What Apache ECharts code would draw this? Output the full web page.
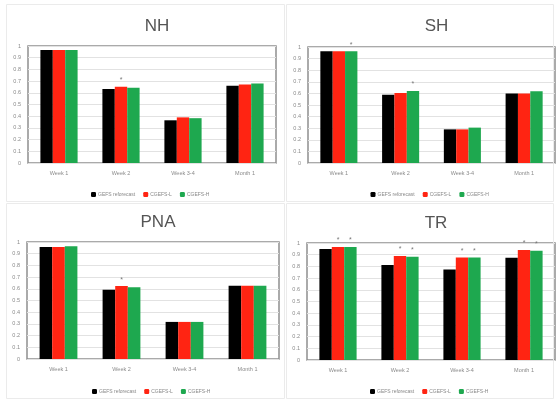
<!DOCTYPE html>
<html><head><meta charset="utf-8">
<script src="https://cdn.jsdelivr.net/npm/echarts@6/dist/echarts.min.js"></script>
<style>html,body{margin:0;padding:0;background:#fff}#c{width:559px;height:401px}</style>
</head><body><div id="c"></div>
<script>
const categories = ['Week 1', 'Week 2', 'Week 3-4', 'Month 1'];
const seriesNames = ['GEFS reforecast', 'CGEFS-L', 'CGEFS-H'];
const yTicks = [0, 0.1, 0.2, 0.3, 0.4, 0.5, 0.6, 0.7, 0.8, 0.9, 1];
const panelTitles = ['NH', 'SH', 'PNA', 'TR'];

const nhGefs = [0.965, 0.632, 0.365, 0.66];
const nhL    = [0.965, 0.652, 0.39, 0.671];
const nhH    = [0.965, 0.643, 0.383, 0.68];
const nhSigL = [false, true, false, false];
const nhSigH = [false, false, false, false];

const shGefs = [0.963, 0.589, 0.29, 0.60];
const shL    = [0.963, 0.603, 0.29, 0.60];
const shH    = [0.963, 0.621, 0.305, 0.618];
const shSigL = [false, false, false, false];
const shSigH = [true, true, false, false];

const pnaGefs = [0.957, 0.591, 0.317, 0.626];
const pnaL    = [0.957, 0.623, 0.317, 0.626];
const pnaH    = [0.963, 0.614, 0.317, 0.626];
const pnaSigL = [false, true, false, false];
const pnaSigH = [false, false, false, false];

const trGefs = [0.949, 0.811, 0.774, 0.874];
const trL    = [0.966, 0.889, 0.877, 0.94];
const trH    = [0.966, 0.883, 0.877, 0.934];
const trSigL = [true, true, true, true];
const trSigH = [true, true, true, true];

const colors = ['#000000', '#ff2412', '#1ea84f'];

const panels = [
  {vals: [nhGefs, nhL, nhH], sig: [null, nhSigL, nhSigH], grid: {left: 28, top: 46, width: 248, height: 117}, titleTop: 13, legendTop: 187},
  {vals: [shGefs, shL, shH], sig: [null, shSigL, shSigH], grid: {left: 308, top: 47, width: 247, height: 116}, titleTop: 13, legendTop: 187},
  {vals: [pnaGefs, pnaL, pnaH], sig: [null, pnaSigL, pnaSigH], grid: {left: 27, top: 242, width: 252, height: 117}, titleTop: 209, legendTop: 384},
  {vals: [trGefs, trL, trH], sig: [null, trSigL, trSigH], grid: {left: 307, top: 243, width: 248, height: 117}, titleTop: 210, legendTop: 384}
];

const grid = [], xAxis = [], yAxis = [], series = [], title = [], legend = [];
panels.forEach((p, i) => {
  grid.push(Object.assign({show: true, borderColor: '#8f8f8f', borderWidth: 1.5, backgroundColor: '#fff'}, p.grid));
  xAxis.push({type: 'category', gridIndex: i, data: categories,
    axisLine: {show: false}, axisTick: {show: false},
    axisLabel: {fontSize: 5.5, color: '#8a8a8a', margin: 7, fontFamily: 'Liberation Sans'}});
  yAxis.push({type: 'value', gridIndex: i, min: 0, max: 1, interval: 0.1,
    axisLine: {show: false}, axisTick: {show: false},
    splitLine: {lineStyle: {color: '#e2e2e2', width: 1}},
    axisLabel: {fontSize: 5.5, color: '#8a8a8a', margin: 7, fontFamily: 'Liberation Sans',
      formatter: v => String(Math.round(v * 10) / 10)}});
  title.push({text: panelTitles[i], left: p.grid.left + p.grid.width / 2, top: p.titleTop, textAlign: 'center',
    textStyle: {fontSize: 17, fontWeight: 'normal', color: '#555', fontFamily: 'Liberation Sans'}});
  legend.push({data: seriesNames, left: p.grid.left + p.grid.width / 2 - 66, top: p.legendTop,
    icon: 'roundRect', itemWidth: 5, itemHeight: 5, itemGap: 8,
    textStyle: {fontSize: 5, color: '#888', padding: [0, 0, 0, -3]}});
  p.vals.forEach((vals, s) => {
    const sig = p.sig[s];
    series.push({type: 'bar', name: seriesNames[s], xAxisIndex: i, yAxisIndex: i,
      barGap: '0%', barCategoryGap: '40%', itemStyle: {color: colors[s]},
      animation: false,
      data: vals.map((v, k) => (sig && sig[k]) ? {value: v, label: {show: true, position: 'top', formatter: '*', distance: 3, fontSize: 7, color: '#777'}} : v)});
  });
});

const graphic = [
  {type: 'rect', shape: {x: 6.5, y: 4.5, width: 278, height: 197}, style: {fill: 'none', stroke: '#ebebeb', lineWidth: 1}, silent: true},
  {type: 'rect', shape: {x: 286.5, y: 4.5, width: 267, height: 197}, style: {fill: 'none', stroke: '#ebebeb', lineWidth: 1}, silent: true},
  {type: 'rect', shape: {x: 6.5, y: 203.5, width: 278, height: 195}, style: {fill: 'none', stroke: '#ebebeb', lineWidth: 1}, silent: true},
  {type: 'rect', shape: {x: 286.5, y: 203.5, width: 267, height: 195}, style: {fill: 'none', stroke: '#ebebeb', lineWidth: 1}, silent: true}
];

const chart = echarts.init(document.getElementById('c'), null, {renderer: 'canvas'});
chart.setOption({backgroundColor: '#fff', animation: false, graphic, title, legend, grid, xAxis, yAxis, series});
</script></body></html>
